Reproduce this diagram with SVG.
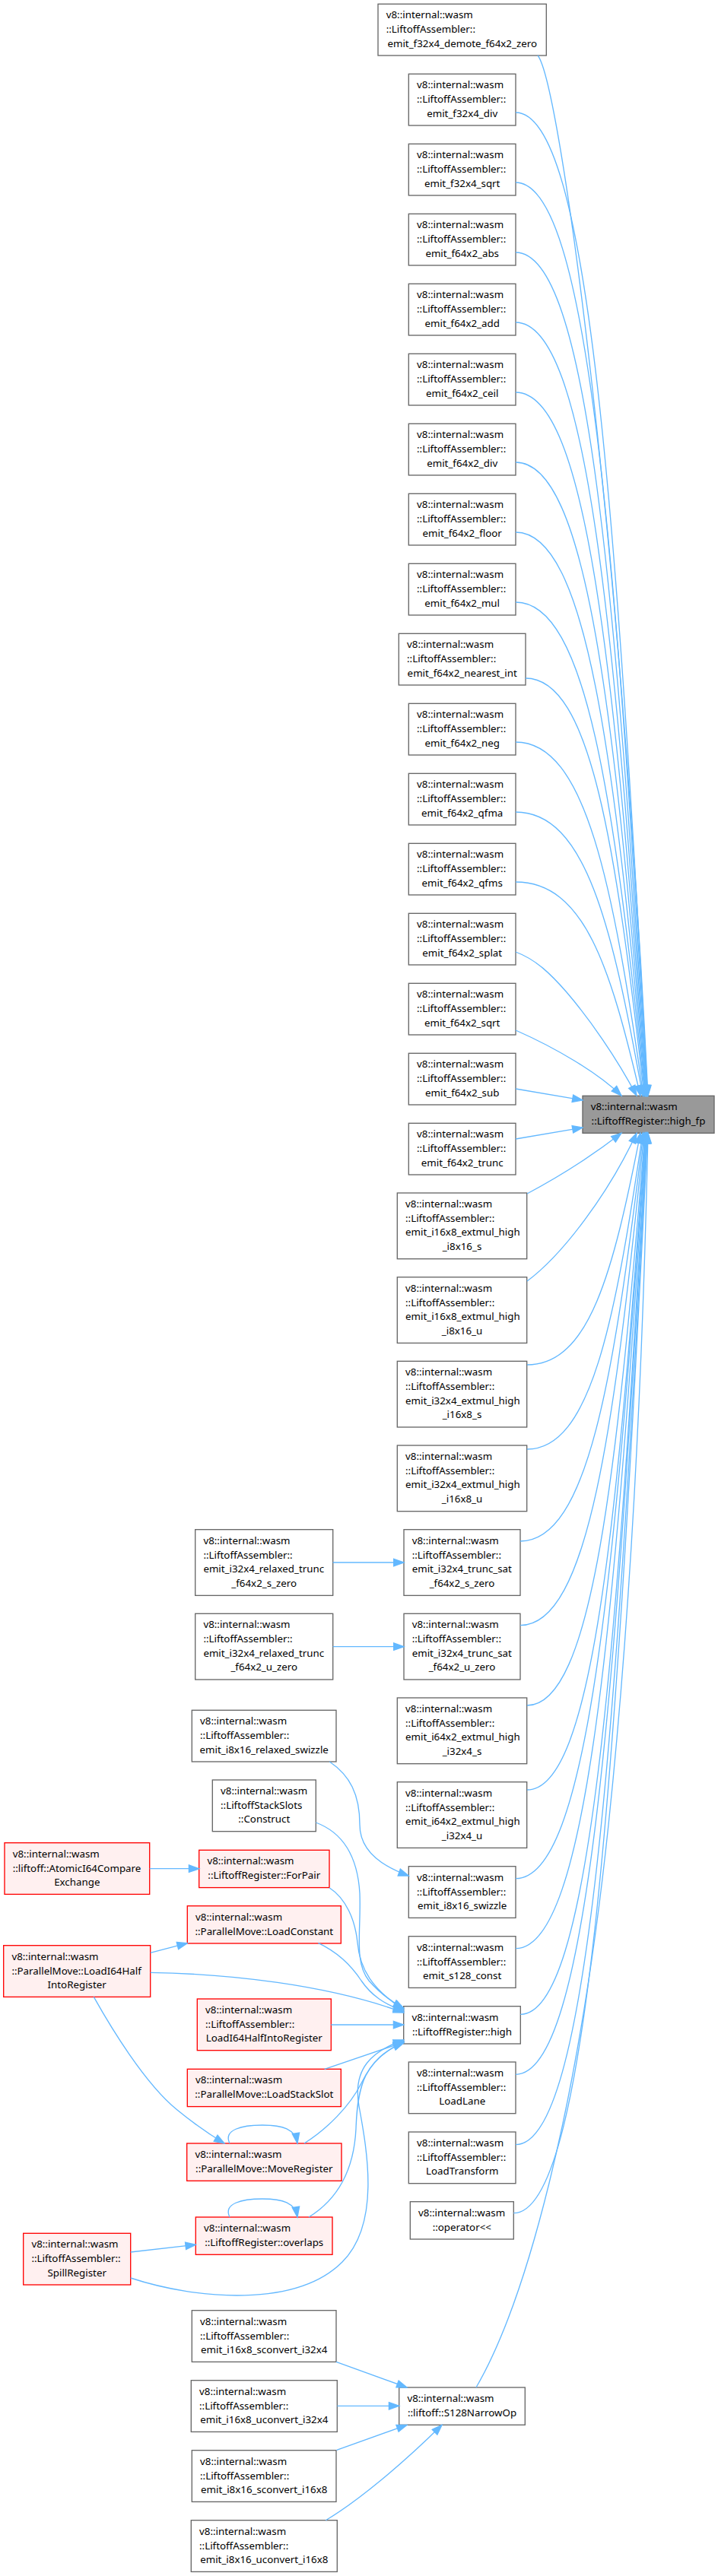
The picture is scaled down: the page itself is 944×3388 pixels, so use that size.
<svg xmlns="http://www.w3.org/2000/svg" width="944" height="3388" viewBox="0 0 944 3388">
<defs>
<style>
rect{stroke-width:1.33}
.n rect{fill:#ffffff;stroke:#666666}
.r rect{fill:#fff0f0;stroke:#ff0000}
.h rect{fill:#999999;stroke:#666666}
text{font-family:"Noto Sans","DejaVu Sans",sans-serif;font-size:13.33px;fill:#000000}
.m{text-anchor:middle}
#edges path{fill:none;stroke:#63b8ff;stroke-width:1.33;marker-end:url(#a)}
</style>
<marker id="a" markerUnits="userSpaceOnUse" markerWidth="18" markerHeight="14" viewBox="-15 -7 18 14" refX="0" refY="0" orient="auto" overflow="visible">
<path d="M-13.3,-4.7 L0,0 L-13.3,4.7 Z" fill="#63b8ff" stroke="#63b8ff" stroke-width="1.33"/>
</marker>
</defs>
<rect x="0" y="0" width="944" height="3388" fill="#ffffff"/>

<g id="n_high_fp" class="h"><rect x="766" y="1441.3" width="173" height="49"/><text x="776.7" y="1460.4">v8::internal::wasm</text><text class="m" x="852.5" y="1479.1">::LiftoffRegister::high_fp</text></g>

<g id="n_demote" class="n"><rect x="497" y="5.3" width="221.3" height="67.7"/><text x="507.7" y="24.4">v8::internal::wasm</text><text x="507.7" y="43.1">::LiftoffAssembler::</text><text class="m" x="607.7" y="61.7">emit_f32x4_demote_f64x2_zero</text></g>
<g id="n_f32x4_div" class="n"><rect x="537.3" y="97.3" width="140.7" height="67.7"/><text x="548" y="116.4">v8::internal::wasm</text><text x="548" y="135.1">::LiftoffAssembler::</text><text class="m" x="607.7" y="153.7">emit_f32x4_div</text></g>
<g id="n_f32x4_sqrt" class="n"><rect x="537.3" y="189.3" width="140.7" height="67.7"/><text x="548" y="208.4">v8::internal::wasm</text><text x="548" y="227.1">::LiftoffAssembler::</text><text class="m" x="607.7" y="245.7">emit_f32x4_sqrt</text></g>
<g id="n_f64x2_abs" class="n"><rect x="537.3" y="281.3" width="140.7" height="67.7"/><text x="548" y="300.4">v8::internal::wasm</text><text x="548" y="319.1">::LiftoffAssembler::</text><text class="m" x="607.7" y="337.7">emit_f64x2_abs</text></g>
<g id="n_f64x2_add" class="n"><rect x="537.3" y="373.3" width="140.7" height="67.7"/><text x="548" y="392.4">v8::internal::wasm</text><text x="548" y="411.1">::LiftoffAssembler::</text><text class="m" x="607.7" y="429.7">emit_f64x2_add</text></g>
<g id="n_f64x2_ceil" class="n"><rect x="537.3" y="465.3" width="140.7" height="67.7"/><text x="548" y="484.4">v8::internal::wasm</text><text x="548" y="503.1">::LiftoffAssembler::</text><text class="m" x="607.7" y="521.7">emit_f64x2_ceil</text></g>
<g id="n_f64x2_div" class="n"><rect x="537.3" y="557.3" width="140.7" height="67.7"/><text x="548" y="576.4">v8::internal::wasm</text><text x="548" y="595.1">::LiftoffAssembler::</text><text class="m" x="607.7" y="613.7">emit_f64x2_div</text></g>
<g id="n_f64x2_floor" class="n"><rect x="537.3" y="649.3" width="140.7" height="67.7"/><text x="548" y="668.4">v8::internal::wasm</text><text x="548" y="687.1">::LiftoffAssembler::</text><text class="m" x="607.7" y="705.7">emit_f64x2_floor</text></g>
<g id="n_f64x2_mul" class="n"><rect x="537.3" y="741.3" width="140.7" height="67.7"/><text x="548" y="760.4">v8::internal::wasm</text><text x="548" y="779.1">::LiftoffAssembler::</text><text class="m" x="607.7" y="797.7">emit_f64x2_mul</text></g>
<g id="n_f64x2_nearest_int" class="n"><rect x="524.3" y="833.3" width="166.7" height="67.7"/><text x="535" y="852.4">v8::internal::wasm</text><text x="535" y="871.1">::LiftoffAssembler::</text><text class="m" x="607.7" y="889.7">emit_f64x2_nearest_int</text></g>
<g id="n_f64x2_neg" class="n"><rect x="537.3" y="925.3" width="140.7" height="67.7"/><text x="548" y="944.4">v8::internal::wasm</text><text x="548" y="963.1">::LiftoffAssembler::</text><text class="m" x="607.7" y="981.7">emit_f64x2_neg</text></g>
<g id="n_f64x2_qfma" class="n"><rect x="537.3" y="1017.3" width="140.7" height="67.7"/><text x="548" y="1036.4">v8::internal::wasm</text><text x="548" y="1055.1">::LiftoffAssembler::</text><text class="m" x="607.7" y="1073.7">emit_f64x2_qfma</text></g>
<g id="n_f64x2_qfms" class="n"><rect x="537.3" y="1109.3" width="140.7" height="67.7"/><text x="548" y="1128.4">v8::internal::wasm</text><text x="548" y="1147.1">::LiftoffAssembler::</text><text class="m" x="607.7" y="1165.7">emit_f64x2_qfms</text></g>
<g id="n_f64x2_splat" class="n"><rect x="537.3" y="1201.3" width="140.7" height="67.7"/><text x="548" y="1220.4">v8::internal::wasm</text><text x="548" y="1239.1">::LiftoffAssembler::</text><text class="m" x="607.7" y="1257.7">emit_f64x2_splat</text></g>
<g id="n_f64x2_sqrt" class="n"><rect x="537.3" y="1293.3" width="140.7" height="67.7"/><text x="548" y="1312.4">v8::internal::wasm</text><text x="548" y="1331.1">::LiftoffAssembler::</text><text class="m" x="607.7" y="1349.7">emit_f64x2_sqrt</text></g>
<g id="n_f64x2_sub" class="n"><rect x="537.3" y="1385.3" width="140.7" height="67.7"/><text x="548" y="1404.4">v8::internal::wasm</text><text x="548" y="1423.1">::LiftoffAssembler::</text><text class="m" x="607.7" y="1441.7">emit_f64x2_sub</text></g>
<g id="n_f64x2_trunc" class="n"><rect x="537.3" y="1477.3" width="140.7" height="67.7"/><text x="548" y="1496.4">v8::internal::wasm</text><text x="548" y="1515.1">::LiftoffAssembler::</text><text class="m" x="607.7" y="1533.7">emit_f64x2_trunc</text></g>

<g id="n_i16x8_extmul_s" class="n"><rect x="522.3" y="1569" width="170.4" height="86.7"/><text x="533" y="1588.1">v8::internal::wasm</text><text x="533" y="1606.8">::LiftoffAssembler::</text><text x="533" y="1625.4">emit_i16x8_extmul_high</text><text class="m" x="607.5" y="1644.1">_i8x16_s</text></g>
<g id="n_i16x8_extmul_u" class="n"><rect x="522.3" y="1679.7" width="170.4" height="86.7"/><text x="533" y="1698.8">v8::internal::wasm</text><text x="533" y="1717.5">::LiftoffAssembler::</text><text x="533" y="1736.1">emit_i16x8_extmul_high</text><text class="m" x="607.5" y="1754.8">_i8x16_u</text></g>
<g id="n_i32x4_extmul_s" class="n"><rect x="522.3" y="1790.3" width="170.4" height="86.7"/><text x="533" y="1809.4">v8::internal::wasm</text><text x="533" y="1828.1">::LiftoffAssembler::</text><text x="533" y="1846.7">emit_i32x4_extmul_high</text><text class="m" x="607.5" y="1865.4">_i16x8_s</text></g>
<g id="n_i32x4_extmul_u" class="n"><rect x="522.3" y="1901" width="170.4" height="86.7"/><text x="533" y="1920.1">v8::internal::wasm</text><text x="533" y="1938.8">::LiftoffAssembler::</text><text x="533" y="1957.4">emit_i32x4_extmul_high</text><text class="m" x="607.5" y="1976.1">_i16x8_u</text></g>
<g id="n_trunc_sat_s" class="n"><rect x="531" y="2011.7" width="153" height="86.7"/><text x="541.7" y="2030.8">v8::internal::wasm</text><text x="541.7" y="2049.5">::LiftoffAssembler::</text><text x="541.7" y="2068.1">emit_i32x4_trunc_sat</text><text class="m" x="607.5" y="2086.8">_f64x2_s_zero</text></g>
<g id="n_trunc_sat_u" class="n"><rect x="531" y="2122.3" width="153" height="86.7"/><text x="541.7" y="2141.4">v8::internal::wasm</text><text x="541.7" y="2160.1">::LiftoffAssembler::</text><text x="541.7" y="2178.7">emit_i32x4_trunc_sat</text><text class="m" x="607.5" y="2197.4">_f64x2_u_zero</text></g>
<g id="n_i64x2_extmul_s" class="n"><rect x="522.3" y="2233" width="170.4" height="86.7"/><text x="533" y="2252.1">v8::internal::wasm</text><text x="533" y="2270.8">::LiftoffAssembler::</text><text x="533" y="2289.4">emit_i64x2_extmul_high</text><text class="m" x="607.5" y="2308.1">_i32x4_s</text></g>
<g id="n_i64x2_extmul_u" class="n"><rect x="522.3" y="2343.7" width="170.4" height="86.7"/><text x="533" y="2362.8">v8::internal::wasm</text><text x="533" y="2381.5">::LiftoffAssembler::</text><text x="533" y="2400.1">emit_i64x2_extmul_high</text><text class="m" x="607.5" y="2418.8">_i32x4_u</text></g>
<g id="n_i8x16_swizzle" class="n"><rect x="537.3" y="2454.7" width="140.7" height="67.7"/><text x="548" y="2473.8">v8::internal::wasm</text><text x="548" y="2492.5">::LiftoffAssembler::</text><text class="m" x="607.7" y="2511.1">emit_i8x16_swizzle</text></g>
<g id="n_s128_const" class="n"><rect x="537.3" y="2546.7" width="140.7" height="67.7"/><text x="548" y="2565.8">v8::internal::wasm</text><text x="548" y="2584.5">::LiftoffAssembler::</text><text class="m" x="607.7" y="2603.1">emit_s128_const</text></g>
<g id="n_high" class="n"><rect x="530.7" y="2638.7" width="153.6" height="49.3"/><text x="541.4" y="2657.8">v8::internal::wasm</text><text class="m" x="607.5" y="2676.5">::LiftoffRegister::high</text></g>
<g id="n_LoadLane" class="n"><rect x="537.3" y="2712" width="140.7" height="67.7"/><text x="548" y="2731.1">v8::internal::wasm</text><text x="548" y="2749.8">::LiftoffAssembler::</text><text class="m" x="607.7" y="2768.4">LoadLane</text></g>
<g id="n_LoadTransform" class="n"><rect x="537.3" y="2804" width="140.7" height="67.7"/><text x="548" y="2823.1">v8::internal::wasm</text><text x="548" y="2841.8">::LiftoffAssembler::</text><text class="m" x="607.7" y="2860.4">LoadTransform</text></g>
<g id="n_operator" class="n"><rect x="539.3" y="2895.7" width="136" height="49.3"/><text x="550" y="2914.8">v8::internal::wasm</text><text class="m" x="607.3" y="2933.5">::operator&lt;&lt;</text></g>
<g id="n_S128NarrowOp" class="n"><rect x="524.7" y="3140" width="165.6" height="49.3"/><text x="535.4" y="3159.1">v8::internal::wasm</text><text class="m" x="607.5" y="3177.8">::liftoff::S128NarrowOp</text></g>

<g id="n_relaxed_trunc_s" class="n"><rect x="256.7" y="2011.7" width="181" height="86.7"/><text x="267.4" y="2030.8">v8::internal::wasm</text><text x="267.4" y="2049.5">::LiftoffAssembler::</text><text x="267.4" y="2068.1">emit_i32x4_relaxed_trunc</text><text class="m" x="347.2" y="2086.8">_f64x2_s_zero</text></g>
<g id="n_relaxed_trunc_u" class="n"><rect x="256.7" y="2122.3" width="181" height="86.7"/><text x="267.4" y="2141.4">v8::internal::wasm</text><text x="267.4" y="2160.1">::LiftoffAssembler::</text><text x="267.4" y="2178.7">emit_i32x4_relaxed_trunc</text><text class="m" x="347.2" y="2197.4">_f64x2_u_zero</text></g>
<g id="n_relaxed_swizzle" class="n"><rect x="252.3" y="2249.3" width="189.7" height="67.7"/><text x="263" y="2268.4">v8::internal::wasm</text><text x="263" y="2287.1">::LiftoffAssembler::</text><text class="m" x="347.2" y="2305.7">emit_i8x16_relaxed_swizzle</text></g>
<g id="n_Construct" class="n"><rect x="279.3" y="2341" width="136" height="67.7"/><text x="290" y="2360.1">v8::internal::wasm</text><text x="290" y="2378.8">::LiftoffStackSlots</text><text class="m" x="347.3" y="2397.4">::Construct</text></g>
<g id="n_ForPair" class="r"><rect x="261.7" y="2433.3" width="171.3" height="49.3"/><text x="272.4" y="2452.4">v8::internal::wasm</text><text class="m" x="347.3" y="2471.1">::LiftoffRegister::ForPair</text></g>
<g id="n_LoadConstant" class="r"><rect x="246.3" y="2506.7" width="202" height="49.3"/><text x="257" y="2525.8">v8::internal::wasm</text><text class="m" x="347.3" y="2544.5">::ParallelMove::LoadConstant</text></g>
<g id="n_AsmLoadI64Half" class="r"><rect x="259.3" y="2629" width="176" height="67.7"/><text x="270" y="2648.1">v8::internal::wasm</text><text x="270" y="2666.8">::LiftoffAssembler::</text><text class="m" x="347.3" y="2685.4">LoadI64HalfIntoRegister</text></g>
<g id="n_LoadStackSlot" class="r"><rect x="246.3" y="2721.3" width="202" height="49.3"/><text x="257" y="2740.4">v8::internal::wasm</text><text class="m" x="347.3" y="2759.1">::ParallelMove::LoadStackSlot</text></g>
<g id="n_MoveRegister" class="r"><rect x="245.7" y="2819" width="203.3" height="49.3"/><text x="256.4" y="2838.1">v8::internal::wasm</text><text class="m" x="347.3" y="2856.8">::ParallelMove::MoveRegister</text></g>
<g id="n_overlaps" class="r"><rect x="257.3" y="2916" width="179.7" height="49.3"/><text x="268" y="2935.1">v8::internal::wasm</text><text class="m" x="347.2" y="2953.8">::LiftoffRegister::overlaps</text></g>
<g id="n_i16x8_sconvert" class="n"><rect x="252.3" y="3038.7" width="189.7" height="67.7"/><text x="263" y="3057.8">v8::internal::wasm</text><text x="263" y="3076.5">::LiftoffAssembler::</text><text class="m" x="347.2" y="3095.1">emit_i16x8_sconvert_i32x4</text></g>
<g id="n_i16x8_uconvert" class="n"><rect x="251.3" y="3130.7" width="192" height="67.7"/><text x="262" y="3149.8">v8::internal::wasm</text><text x="262" y="3168.5">::LiftoffAssembler::</text><text class="m" x="347.3" y="3187.1">emit_i16x8_uconvert_i32x4</text></g>
<g id="n_i8x16_sconvert" class="n"><rect x="252.3" y="3222.7" width="189.7" height="67.7"/><text x="263" y="3241.8">v8::internal::wasm</text><text x="263" y="3260.5">::LiftoffAssembler::</text><text class="m" x="347.2" y="3279.1">emit_i8x16_sconvert_i16x8</text></g>
<g id="n_i8x16_uconvert" class="n"><rect x="251.3" y="3314.7" width="192" height="67.7"/><text x="262" y="3333.8">v8::internal::wasm</text><text x="262" y="3352.5">::LiftoffAssembler::</text><text class="m" x="347.3" y="3371.1">emit_i8x16_uconvert_i16x8</text></g>

<g id="n_AtomicI64CompareExchange" class="r"><rect x="6" y="2423.7" width="190.7" height="67.7"/><text x="16.7" y="2442.8">v8::internal::wasm</text><text x="16.7" y="2461.5">::liftoff::AtomicI64Compare</text><text class="m" x="101.3" y="2480.1">Exchange</text></g>
<g id="n_PMLoadI64Half" class="r"><rect x="4.7" y="2558.7" width="193" height="67.7"/><text x="15.4" y="2577.8">v8::internal::wasm</text><text x="15.4" y="2596.5">::ParallelMove::LoadI64Half</text><text class="m" x="101.2" y="2615.1">IntoRegister</text></g>
<g id="n_SpillRegister" class="r"><rect x="30.7" y="2937.3" width="141" height="67.7"/><text x="41.4" y="2956.4">v8::internal::wasm</text><text x="41.4" y="2975.1">::LiftoffAssembler::</text><text class="m" x="101.2" y="2993.7">SpillRegister</text></g>

<g id="edges">
<path d="M707,73 C737,110 815,700 852,1441"/>
<path d="M678,148 C773.4,148 809.9,665.2 851.5,1441"/>
<path d="M678,240 C773.2,240 809.5,720.4 851,1441"/>
<path d="M678,332 C772.9,332 809.1,775.6 850.5,1441"/>
<path d="M678,424 C772.6,424 808.7,830.8 850,1441"/>
<path d="M678,516 C772.3,516 808.3,886 849.5,1441"/>
<path d="M678,608 C772.1,608 808,941.2 849,1441"/>
<path d="M678,700 C771.8,700 807.6,996.4 848.5,1441"/>
<path d="M678,792 C771.5,792 807.2,1051.6 848,1441"/>
<path d="M691,892 C776.8,892 809.6,1111.6 847,1441"/>
<path d="M678,976 C770.4,976 805.7,1162 846,1441"/>
<path d="M678,1068 C769.9,1068 804.9,1217.2 845,1441"/>
<path d="M678,1160 C768.2,1160 802.6,1272.4 842,1441"/>
<path d="M678,1252 C705,1262 725,1282 745,1305 C775,1340 810,1390 837,1441"/>
<path d="M678,1355 C730,1378 785,1410 817,1441"/>
<path d="M678,1432 L766,1447"/>
<path d="M678,1498 L766,1483"/>
<path d="M693,1570 C740,1545 785,1515 817,1490.3"/>
<path d="M693,1685 C740,1650 800,1570 837,1490.3"/>
<path d="M693,1795 C775,1795 806.2,1673 842,1490.3"/>
<path d="M693,1906 C776.6,1906 808.5,1739.6 845,1490.3"/>
<path d="M684,2027 C773.1,2027 807.1,1812.2 846,1490.3"/>
<path d="M684,2137.7 C773.7,2137.7 807.9,1878.6 847,1490.3"/>
<path d="M693,2243 C778.3,2243 810.8,1941.8 848,1490.3"/>
<path d="M693,2354 C778.5,2354 811.2,2008.4 848.5,1490.3"/>
<path d="M678,2470.7 C772.1,2470.7 808,2078.4 849,1490.3"/>
<path d="M678,2562.7 C772.3,2562.7 808.3,2133.6 849.5,1490.3"/>
<path d="M684.3,2649.3 C775.4,2649.3 810.2,2185.6 850,1490.3"/>
<path d="M678,2728.3 C772.9,2728.3 809.1,2233 850.5,1490.3"/>
<path d="M678,2820.7 C773.2,2820.7 809.5,2288.4 851,1490.3"/>
<path d="M675.3,2910.7 C772.2,2910.7 809.2,2342.4 851.5,1490.3"/>
<path d="M626,3140 C690,3030 760,2780 800,2400 C830,2115 845,1800 852,1490.3"/>
<path d="M437.7,2055 L531,2055"/>
<path d="M437.7,2165.7 L531,2165.7"/>
<path d="M433.3,2317 C460,2335 473,2360 473,2400 C473,2430 495,2452 537.3,2467"/>
<path d="M415.3,2397 C450,2410 470,2440 473,2490 C475,2540 465,2580 485,2605 C500,2622 515,2633 530.7,2641"/>
<path d="M433,2482.7 C455,2497 467,2525 470,2555 C473,2590 490,2617 530.7,2643"/>
<path d="M418.3,2555.3 C445,2568 462,2585 475,2605 C488,2624 505,2636 530.7,2645"/>
<path d="M197.7,2594.3 C300,2596 430,2610 530.7,2647"/>
<path d="M435.3,2663 L530.7,2663"/>
<path d="M426.7,2721.3 L530.7,2686"/>
<path d="M400,2819 C430,2800 460,2770 475,2740 C490,2710 505,2697 530.7,2687"/>
<path d="M406,2916 C440,2895 465,2860 468,2800 C470,2740 480,2710 530.7,2685"/>
<path d="M171.7,2996 C260,3025 390,3035 450,2975 C500,2925 483,2830 472,2770 C463,2720 490,2697 530.7,2683"/>
<path d="M196.7,2457.7 L261.7,2457.7"/>
<path d="M197.7,2568.3 L246.3,2555.7"/>
<path d="M123.3,2626.3 C145,2665 190,2740 233,2775 C255,2793 275,2807 295,2819"/>
<path d="M302,2819 C293,2801 318,2795 345,2795 C372,2795 388,2800 391,2819"/>
<path d="M302,2916 C293,2898 318,2892 345,2892 C372,2892 388,2897 391,2916"/>
<path d="M171.7,2962 L257.3,2952.3"/>
<path d="M442,3106.3 L535,3140"/>
<path d="M443.3,3164.3 L524.7,3164.3"/>
<path d="M442.7,3222.3 L535,3189.3"/>
<path d="M428.3,3314.7 C470,3290 530,3240 581,3189.3"/>
</g>
</svg>
